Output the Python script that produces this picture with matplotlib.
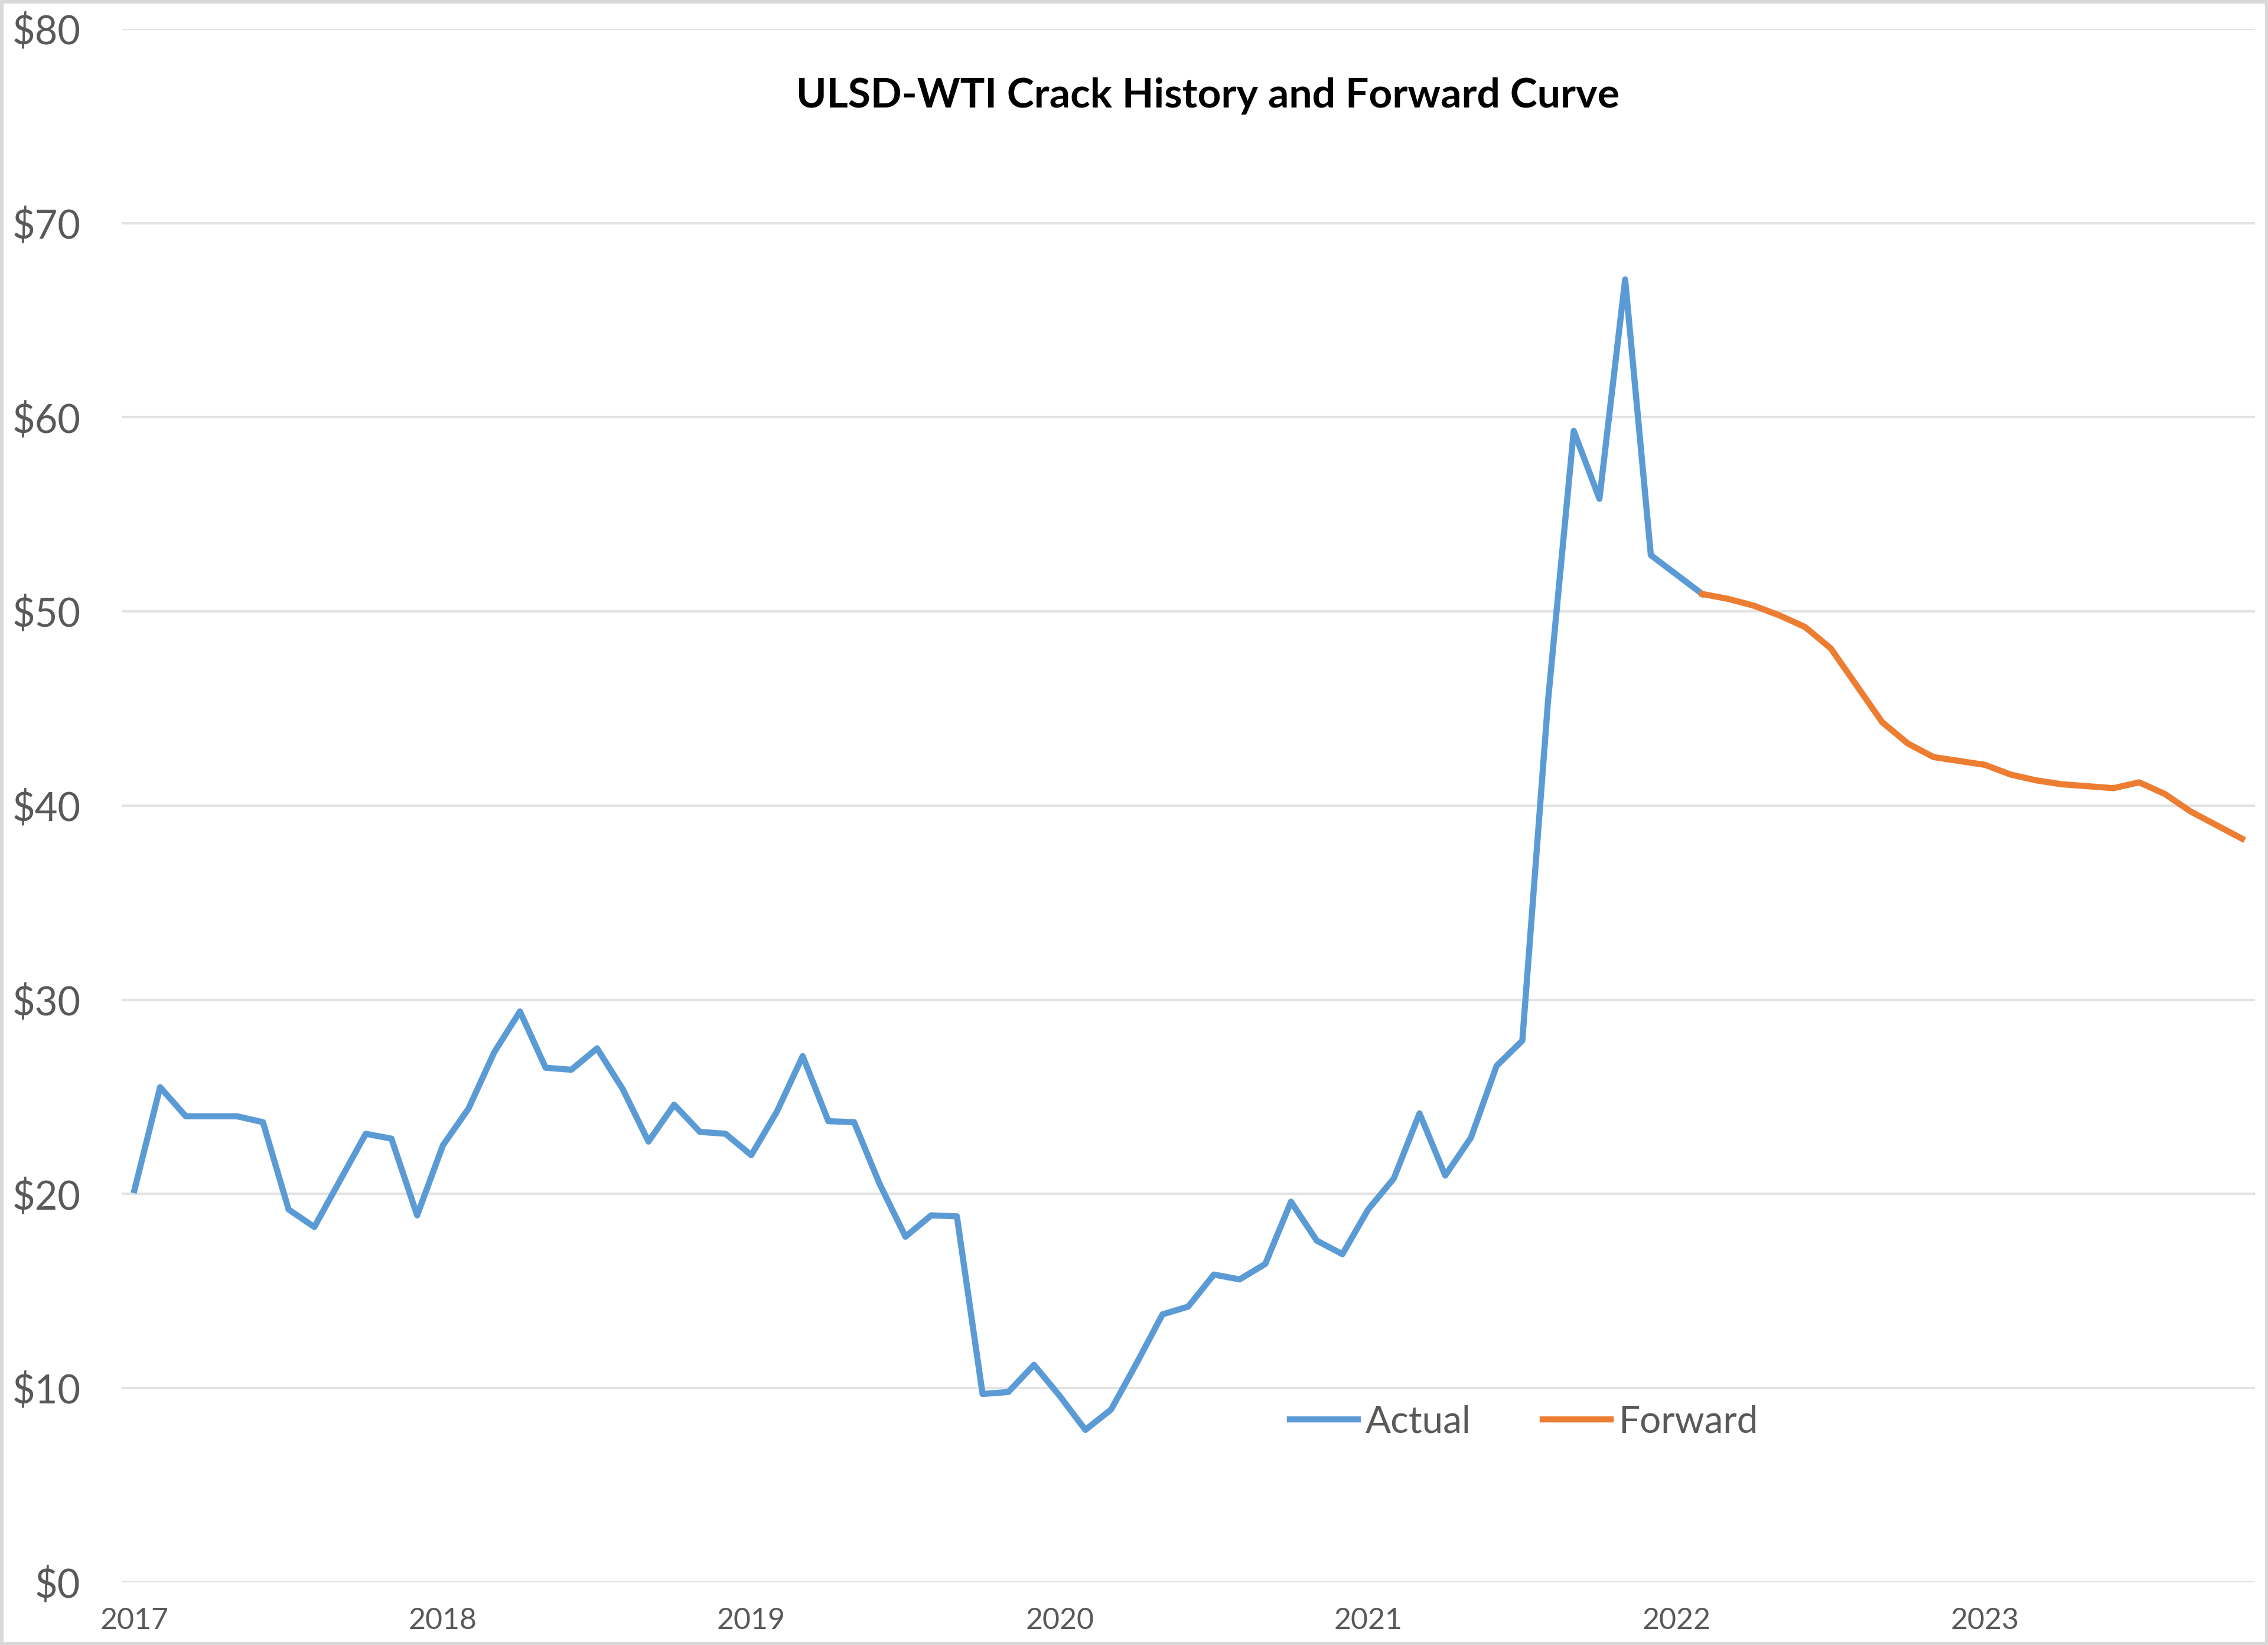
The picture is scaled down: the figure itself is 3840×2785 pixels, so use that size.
import matplotlib.pyplot as plt
from matplotlib.patches import Rectangle

# monthly ULSD-WTI crack, $/bbl, Jan 2017 .. Feb 2022
actual = [
    20.2, 25.5, 24.0, 24.0, 24.0, 23.7, 19.2, 18.3, 20.7, 23.1, 22.85, 18.9,   # 2017
    22.5, 24.4, 27.3, 29.4, 26.5, 26.4, 27.5, 25.4, 22.7, 24.6, 23.2, 23.1,    # 2018
    22.0, 24.25, 27.1, 23.75, 23.7, 20.5, 17.8, 18.9, 18.85, 9.7, 9.8, 11.2,   # 2019
    9.6, 7.85, 8.9, 11.3, 13.8, 14.2, 15.85, 15.6, 16.4, 19.6, 17.6, 16.9,     # 2020
    19.2, 20.8, 24.15, 20.95, 22.9, 26.6, 27.9, 45.4, 59.3, 55.8, 67.1, 52.9,  # 2021
    51.9, 50.9,                                                                # 2022
]
# forward curve, Feb 2022 .. Nov 2023
forward = [
    50.9, 50.65, 50.3, 49.8, 49.2, 48.1, 46.2, 44.3, 43.2, 42.5, 42.3,
    42.1, 41.6, 41.3, 41.1, 41.0, 40.9, 41.2, 40.6, 39.7, 39.0, 38.3,
]
years = ["2017", "2018", "2019", "2020", "2021", "2022", "2023"]
y_ticks = [0, 10, 20, 30, 40, 50, 60, 70, 80]

x_actual = list(range(len(actual)))
x_forward = list(range(len(actual) - 1, len(actual) - 1 + len(forward)))

BLUE = "#5B9BD5"
ORANGE = "#ED7D31"
GRID = "#E3E3E3"
TXT = "#595959"

plt.rcParams["font.family"] = ["Lato", "DejaVu Sans"]

fig = plt.figure(figsize=(38.4, 27.85), dpi=100)
ax = fig.add_axes([0.0536, 0.0381, 0.9406, 0.9443])

ax.plot(x_actual, actual, color=BLUE, lw=7.5, label="Actual", solid_joinstyle="round")
ax.plot(x_forward, forward, color=ORANGE, lw=7.5, label="Forward", solid_joinstyle="round")

ax.set_xlim(-0.5, x_forward[-1] + 0.5)
ax.set_ylim(0, 80)

ax.set_yticks(y_ticks)
ax.set_yticklabels(["$%d" % v for v in y_ticks])
ax.set_xticks([12 * i for i in range(len(years))])
ax.set_xticklabels(years)

ax.tick_params(axis="y", length=0, pad=50, labelsize=48, labelcolor=TXT)
ax.tick_params(axis="x", length=0, pad=30, labelsize=36, labelcolor=TXT)

ax.grid(axis="y", color=GRID, lw=3)
ax.set_axisbelow(True)
for s in ax.spines.values():
    s.set_visible(False)

fig.text(0.5326, 0.9418, "ULSD-WTI Crack History and Forward Curve",
         ha="center", va="center", fontsize=50, fontweight="bold", color="black")

fig.legend(loc="center", bbox_to_anchor=(0.672, 0.1357), ncol=2, frameon=False,
           fontsize=46, handlelength=1.8, handletextpad=0.2, columnspacing=1.9,
           labelcolor=TXT)

# light border round the chart area
fig.patches.append(Rectangle((0.0, 0.0), 1.0, 1.0, transform=fig.transFigure,
                             fill=False, edgecolor="#D9D9D9", lw=8))

fig.savefig("out.png", dpi=100)
